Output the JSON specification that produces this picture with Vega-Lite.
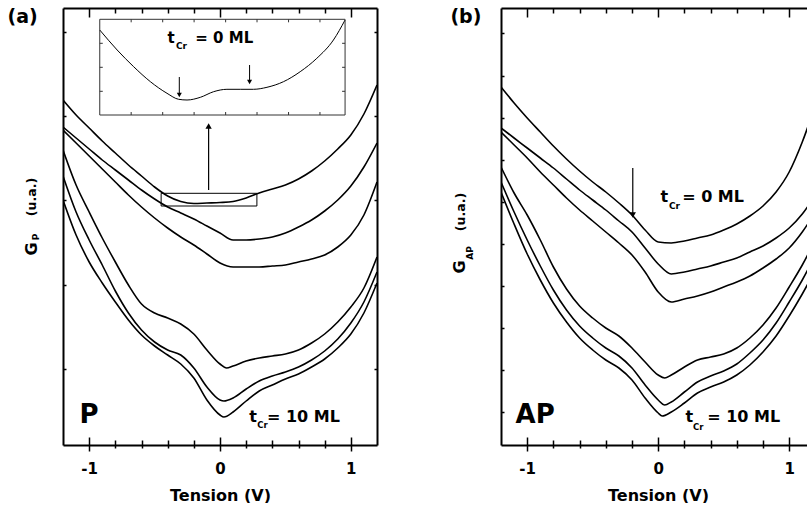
{
"$schema": "https://vega.github.io/schema/vega-lite/v6.json",
"padding": {"left": 7, "top": 7, "right": 0, "bottom": 0},
"config": {
 "font": "DejaVu Sans",
 "view": {"stroke": null},
 "axis": {"grid": false, "domainColor": "black", "domainWidth": 2, "tickColor": "black", "tickWidth": 1.5, "labelFont": "DejaVu Sans", "labelFontWeight": "bold", "labelFontSize": 15, "labelColor": "black", "titleFont": "DejaVu Sans", "titleFontWeight": "bold", "titleFontSize": 16, "titleColor": "black"},
 "text": {"font": "DejaVu Sans", "fontWeight": "bold", "color": "black"}
},
"datasets": {
 "a": [
  {"c":"a1","v":-1.2,"g":345},{"c":"a1","v":-1.1,"g":330},{"c":"a1","v":-1,"g":317},{"c":"a1","v":-0.9,"g":304},{"c":"a1","v":-0.8,"g":292},{"c":"a1","v":-0.7,"g":280},{"c":"a1","v":-0.6,"g":269},{"c":"a1","v":-0.5,"g":258},{"c":"a1","v":-0.4,"g":249},{"c":"a1","v":-0.3,"g":243.5},{"c":"a1","v":-0.2,"g":241.5},{"c":"a1","v":-0.1,"g":242},{"c":"a1","v":0,"g":242.5},{"c":"a1","v":0.1,"g":243.5},{"c":"a1","v":0.2,"g":247},{"c":"a1","v":0.3,"g":252},{"c":"a1","v":0.4,"g":256},{"c":"a1","v":0.5,"g":260},{"c":"a1","v":0.6,"g":266},{"c":"a1","v":0.7,"g":274},{"c":"a1","v":0.8,"g":284},{"c":"a1","v":0.9,"g":296},{"c":"a1","v":1,"g":310},{"c":"a1","v":1.1,"g":331},{"c":"a1","v":1.2,"g":360},
  {"c":"a2","v":-1.2,"g":318},{"c":"a2","v":-1.1,"g":307},{"c":"a2","v":-1,"g":296},{"c":"a2","v":-0.9,"g":285},{"c":"a2","v":-0.8,"g":275},{"c":"a2","v":-0.7,"g":265},{"c":"a2","v":-0.6,"g":255},{"c":"a2","v":-0.5,"g":246},{"c":"a2","v":-0.4,"g":238},{"c":"a2","v":-0.3,"g":232},{"c":"a2","v":-0.2,"g":226},{"c":"a2","v":-0.1,"g":219},{"c":"a2","v":0,"g":212},{"c":"a2","v":0.1,"g":205},{"c":"a2","v":0.2,"g":205},{"c":"a2","v":0.3,"g":206},{"c":"a2","v":0.4,"g":208},{"c":"a2","v":0.5,"g":212},{"c":"a2","v":0.6,"g":218},{"c":"a2","v":0.7,"g":225},{"c":"a2","v":0.8,"g":234},{"c":"a2","v":0.9,"g":245},{"c":"a2","v":1,"g":259},{"c":"a2","v":1.1,"g":278},{"c":"a2","v":1.2,"g":302},
  {"c":"a3","v":-1.2,"g":315},{"c":"a3","v":-1.1,"g":302},{"c":"a3","v":-1,"g":289},{"c":"a3","v":-0.9,"g":276},{"c":"a3","v":-0.8,"g":263},{"c":"a3","v":-0.7,"g":250},{"c":"a3","v":-0.6,"g":238},{"c":"a3","v":-0.5,"g":227},{"c":"a3","v":-0.4,"g":217},{"c":"a3","v":-0.3,"g":208},{"c":"a3","v":-0.2,"g":200},{"c":"a3","v":-0.1,"g":191},{"c":"a3","v":0,"g":182},{"c":"a3","v":0.1,"g":178},{"c":"a3","v":0.2,"g":178},{"c":"a3","v":0.3,"g":178},{"c":"a3","v":0.4,"g":179},{"c":"a3","v":0.5,"g":180},{"c":"a3","v":0.6,"g":183},{"c":"a3","v":0.7,"g":186},{"c":"a3","v":0.8,"g":190},{"c":"a3","v":0.9,"g":198},{"c":"a3","v":1,"g":210},{"c":"a3","v":1.1,"g":230},{"c":"a3","v":1.2,"g":263},
  {"c":"a4","v":-1.2,"g":295},{"c":"a4","v":-1.1,"g":260},{"c":"a4","v":-1,"g":233},{"c":"a4","v":-0.9,"g":207},{"c":"a4","v":-0.8,"g":183},{"c":"a4","v":-0.7,"g":160},{"c":"a4","v":-0.6,"g":141},{"c":"a4","v":-0.5,"g":132},{"c":"a4","v":-0.4,"g":127},{"c":"a4","v":-0.3,"g":121},{"c":"a4","v":-0.2,"g":111},{"c":"a4","v":-0.1,"g":95},{"c":"a4","v":0,"g":81},{"c":"a4","v":0.05,"g":77},{"c":"a4","v":0.1,"g":79},{"c":"a4","v":0.2,"g":84},{"c":"a4","v":0.3,"g":87},{"c":"a4","v":0.4,"g":89},{"c":"a4","v":0.5,"g":91},{"c":"a4","v":0.6,"g":95},{"c":"a4","v":0.7,"g":102},{"c":"a4","v":0.8,"g":111},{"c":"a4","v":0.9,"g":123},{"c":"a4","v":1,"g":138},{"c":"a4","v":1.1,"g":157},{"c":"a4","v":1.2,"g":188},
  {"c":"a5","v":-1.2,"g":269},{"c":"a5","v":-1.1,"g":233},{"c":"a5","v":-1,"g":205},{"c":"a5","v":-0.9,"g":180},{"c":"a5","v":-0.8,"g":154},{"c":"a5","v":-0.7,"g":132},{"c":"a5","v":-0.6,"g":115},{"c":"a5","v":-0.5,"g":103},{"c":"a5","v":-0.4,"g":95},{"c":"a5","v":-0.3,"g":90},{"c":"a5","v":-0.2,"g":77},{"c":"a5","v":-0.1,"g":58},{"c":"a5","v":0,"g":45},{"c":"a5","v":0.03,"g":44},{"c":"a5","v":0.1,"g":47},{"c":"a5","v":0.2,"g":56},{"c":"a5","v":0.3,"g":64},{"c":"a5","v":0.4,"g":69},{"c":"a5","v":0.5,"g":73},{"c":"a5","v":0.6,"g":78},{"c":"a5","v":0.7,"g":85},{"c":"a5","v":0.8,"g":94},{"c":"a5","v":0.9,"g":106},{"c":"a5","v":1,"g":122},{"c":"a5","v":1.1,"g":143},{"c":"a5","v":1.2,"g":173},
  {"c":"a6","v":-1.2,"g":245},{"c":"a6","v":-1.1,"g":210},{"c":"a6","v":-1,"g":183},{"c":"a6","v":-0.9,"g":162},{"c":"a6","v":-0.8,"g":143},{"c":"a6","v":-0.7,"g":125},{"c":"a6","v":-0.6,"g":110},{"c":"a6","v":-0.5,"g":99},{"c":"a6","v":-0.4,"g":90},{"c":"a6","v":-0.3,"g":81},{"c":"a6","v":-0.2,"g":67},{"c":"a6","v":-0.1,"g":45},{"c":"a6","v":0,"g":30},{"c":"a6","v":0.03,"g":28},{"c":"a6","v":0.1,"g":33},{"c":"a6","v":0.2,"g":44},{"c":"a6","v":0.3,"g":54},{"c":"a6","v":0.4,"g":60},{"c":"a6","v":0.5,"g":66},{"c":"a6","v":0.6,"g":71},{"c":"a6","v":0.7,"g":78},{"c":"a6","v":0.8,"g":86},{"c":"a6","v":0.9,"g":97},{"c":"a6","v":1,"g":111},{"c":"a6","v":1.1,"g":132},{"c":"a6","v":1.2,"g":162}
 ],
 "ins": [
  {"v":-0.919,"g":415},{"v":-0.786,"g":395},{"v":-0.66,"g":378.3},{"v":-0.532,"g":363.3},{"v":-0.405,"g":351.7},{"v":-0.316,"g":345.7},{"v":-0.252,"g":345},{"v":-0.15,"g":347.7},{"v":-0.049,"g":353.3},{"v":0.053,"g":355.7},{"v":0.155,"g":355.7},{"v":0.256,"g":355.7},{"v":0.359,"g":357.7},{"v":0.485,"g":363.3},{"v":0.613,"g":373.3},{"v":0.74,"g":386.7},{"v":0.867,"g":405},{"v":0.956,"g":425}
 ],
 "itx": [{"v":-0.679},{"v":-0.438},{"v":-0.198},{"v":0.043},{"v":0.283},{"v":0.524},{"v":0.764}],
 "ity": [{"g":401.7},{"g":377.7},{"g":353.7}],
 "b": [
  {"c":"b1","v":-1.2,"g":358},{"c":"b1","v":-1.1,"g":342},{"c":"b1","v":-1,"g":327},{"c":"b1","v":-0.9,"g":313},{"c":"b1","v":-0.8,"g":299},{"c":"b1","v":-0.7,"g":286},{"c":"b1","v":-0.6,"g":274},{"c":"b1","v":-0.5,"g":263},{"c":"b1","v":-0.4,"g":253},{"c":"b1","v":-0.3,"g":242},{"c":"b1","v":-0.2,"g":230},{"c":"b1","v":-0.1,"g":215},{"c":"b1","v":0,"g":203},{"c":"b1","v":0.1,"g":202},{"c":"b1","v":0.2,"g":204},{"c":"b1","v":0.3,"g":207},{"c":"b1","v":0.4,"g":210},{"c":"b1","v":0.5,"g":215},{"c":"b1","v":0.6,"g":221},{"c":"b1","v":0.7,"g":229},{"c":"b1","v":0.8,"g":239},{"c":"b1","v":0.9,"g":253},{"c":"b1","v":1,"g":273},{"c":"b1","v":1.1,"g":303},{"c":"b1","v":1.2,"g":340},
  {"c":"b2","v":-1.2,"g":317},{"c":"b2","v":-1.1,"g":307},{"c":"b2","v":-1,"g":297},{"c":"b2","v":-0.9,"g":287},{"c":"b2","v":-0.8,"g":277},{"c":"b2","v":-0.7,"g":266},{"c":"b2","v":-0.6,"g":255},{"c":"b2","v":-0.5,"g":245},{"c":"b2","v":-0.4,"g":235},{"c":"b2","v":-0.3,"g":224},{"c":"b2","v":-0.2,"g":213},{"c":"b2","v":-0.1,"g":197},{"c":"b2","v":0,"g":181},{"c":"b2","v":0.1,"g":171},{"c":"b2","v":0.2,"g":173},{"c":"b2","v":0.3,"g":176},{"c":"b2","v":0.4,"g":179},{"c":"b2","v":0.5,"g":183},{"c":"b2","v":0.6,"g":187},{"c":"b2","v":0.7,"g":193},{"c":"b2","v":0.8,"g":199},{"c":"b2","v":0.9,"g":207},{"c":"b2","v":1,"g":217},{"c":"b2","v":1.1,"g":231},{"c":"b2","v":1.2,"g":250},
  {"c":"b3","v":-1.2,"g":313},{"c":"b3","v":-1.1,"g":300},{"c":"b3","v":-1,"g":287},{"c":"b3","v":-0.9,"g":273},{"c":"b3","v":-0.8,"g":260},{"c":"b3","v":-0.7,"g":247},{"c":"b3","v":-0.6,"g":235},{"c":"b3","v":-0.5,"g":224},{"c":"b3","v":-0.4,"g":213},{"c":"b3","v":-0.3,"g":202},{"c":"b3","v":-0.2,"g":190},{"c":"b3","v":-0.1,"g":173},{"c":"b3","v":0,"g":153},{"c":"b3","v":0.1,"g":143},{"c":"b3","v":0.2,"g":146},{"c":"b3","v":0.3,"g":149},{"c":"b3","v":0.4,"g":153},{"c":"b3","v":0.5,"g":158},{"c":"b3","v":0.6,"g":163},{"c":"b3","v":0.7,"g":169},{"c":"b3","v":0.8,"g":177},{"c":"b3","v":0.9,"g":186},{"c":"b3","v":1,"g":197},{"c":"b3","v":1.1,"g":213},{"c":"b3","v":1.2,"g":233},
  {"c":"b4","v":-1.2,"g":278},{"c":"b4","v":-1.1,"g":252},{"c":"b4","v":-1,"g":230},{"c":"b4","v":-0.9,"g":205},{"c":"b4","v":-0.8,"g":178},{"c":"b4","v":-0.7,"g":156},{"c":"b4","v":-0.6,"g":139},{"c":"b4","v":-0.5,"g":127},{"c":"b4","v":-0.4,"g":117},{"c":"b4","v":-0.3,"g":109},{"c":"b4","v":-0.2,"g":97},{"c":"b4","v":-0.1,"g":83},{"c":"b4","v":0,"g":70},{"c":"b4","v":0.05,"g":67},{"c":"b4","v":0.1,"g":70},{"c":"b4","v":0.2,"g":78},{"c":"b4","v":0.3,"g":85},{"c":"b4","v":0.4,"g":88},{"c":"b4","v":0.5,"g":91},{"c":"b4","v":0.6,"g":97},{"c":"b4","v":0.7,"g":107},{"c":"b4","v":0.8,"g":120},{"c":"b4","v":0.9,"g":137},{"c":"b4","v":1,"g":158},{"c":"b4","v":1.1,"g":180},{"c":"b4","v":1.2,"g":205},
  {"c":"b5","v":-1.2,"g":263},{"c":"b5","v":-1.1,"g":233},{"c":"b5","v":-1,"g":205},{"c":"b5","v":-0.9,"g":179},{"c":"b5","v":-0.8,"g":155},{"c":"b5","v":-0.7,"g":135},{"c":"b5","v":-0.6,"g":119},{"c":"b5","v":-0.5,"g":107},{"c":"b5","v":-0.4,"g":97},{"c":"b5","v":-0.3,"g":89},{"c":"b5","v":-0.2,"g":77},{"c":"b5","v":-0.1,"g":60},{"c":"b5","v":0,"g":45},{"c":"b5","v":0.05,"g":40},{"c":"b5","v":0.1,"g":43},{"c":"b5","v":0.2,"g":53},{"c":"b5","v":0.3,"g":63},{"c":"b5","v":0.4,"g":69},{"c":"b5","v":0.5,"g":74},{"c":"b5","v":0.6,"g":81},{"c":"b5","v":0.7,"g":92},{"c":"b5","v":0.8,"g":105},{"c":"b5","v":0.9,"g":122},{"c":"b5","v":1,"g":143},{"c":"b5","v":1.1,"g":165},{"c":"b5","v":1.2,"g":190},
  {"c":"b6","v":-1.2,"g":253},{"c":"b6","v":-1.1,"g":221},{"c":"b6","v":-1,"g":191},{"c":"b6","v":-0.9,"g":165},{"c":"b6","v":-0.8,"g":142},{"c":"b6","v":-0.7,"g":123},{"c":"b6","v":-0.6,"g":107},{"c":"b6","v":-0.5,"g":95},{"c":"b6","v":-0.4,"g":85},{"c":"b6","v":-0.3,"g":77},{"c":"b6","v":-0.2,"g":65},{"c":"b6","v":-0.1,"g":47},{"c":"b6","v":0,"g":32},{"c":"b6","v":0.03,"g":29},{"c":"b6","v":0.1,"g":33},{"c":"b6","v":0.2,"g":42},{"c":"b6","v":0.3,"g":52},{"c":"b6","v":0.4,"g":58},{"c":"b6","v":0.5,"g":63},{"c":"b6","v":0.6,"g":70},{"c":"b6","v":0.7,"g":80},{"c":"b6","v":0.8,"g":93},{"c":"b6","v":0.9,"g":109},{"c":"b6","v":1,"g":129},{"c":"b6","v":1.1,"g":151},{"c":"b6","v":1.2,"g":175}
 ]
},
"spacing": 124,
"bounds": "flush",
"hconcat": [
 {
  "width": 314, "height": 437,
  "layer": [
   {"data": {"values": [{}]}, "layer": [
    {"data": {"name": "a"}, "mark": {"type": "line", "stroke": "black", "strokeWidth": 1.6, "clip": true, "interpolate": "monotone"},
     "encoding": {
      "x": {"field": "v", "type": "quantitative", "scale": {"domain": [-1.2, 1.2], "nice": false, "zero": false},
        "axis": {"orient": "bottom", "values": [-1, 0, 1], "format": "d", "labelExpr": "replace(datum.label, '−', '-')", "tickSize": 6, "labelPadding": 10, "labelOverlap": false, "labelFlush": false, "title": "Tension (V)", "titlePadding": 11}},
      "y": {"field": "g", "type": "quantitative", "scale": {"domain": [0, 437], "nice": false, "zero": false},
        "axis": {"orient": "left", "values": [413,329,245,160,76], "labels": false, "title": null, "tickSize": -3}},
      "detail": {"field": "c"}
     }},
    {"data": {"name": "ins"}, "mark": {"type": "line", "stroke": "black", "strokeWidth": 1, "interpolate": "monotone"},
     "encoding": {"x": {"field": "v", "type": "quantitative"}, "y": {"field": "g", "type": "quantitative"}}},
    {"mark": {"type": "rect", "fill": null, "stroke": "#333", "strokeWidth": 1},
     "encoding": {"x": {"datum": -0.919}, "x2": {"datum": 0.956}, "y": {"datum": 330}, "y2": {"datum": 425.7}}},
    {"data": {"name": "itx"}, "mark": {"type": "rule", "stroke": "#333", "strokeWidth": 1},
     "encoding": {"x": {"field": "v", "type": "quantitative"}, "y": {"datum": 330}, "y2": {"datum": 333}}},
    {"data": {"name": "itx"}, "mark": {"type": "rule", "stroke": "#333", "strokeWidth": 1},
     "encoding": {"x": {"field": "v", "type": "quantitative"}, "y": {"datum": 425.7}, "y2": {"datum": 422.7}}},
    {"data": {"name": "ity"}, "mark": {"type": "rule", "stroke": "#333", "strokeWidth": 1},
     "encoding": {"y": {"field": "g", "type": "quantitative"}, "x": {"datum": -0.919}, "x2": {"datum": -0.896}}},
    {"data": {"name": "ity"}, "mark": {"type": "rule", "stroke": "#333", "strokeWidth": 1},
     "encoding": {"y": {"field": "g", "type": "quantitative"}, "x": {"datum": 0.956}, "x2": {"datum": 0.933}}},
    {"mark": {"type": "rect", "fill": null, "stroke": "black", "strokeWidth": 1},
     "encoding": {"x": {"datum": -0.45}, "x2": {"datum": 0.282}, "y": {"datum": 239}, "y2": {"datum": 251.7}}},
    {"mark": {"type": "rule", "stroke": "black", "strokeWidth": 1.2},
     "encoding": {"x": {"datum": -0.087}, "y": {"datum": 255}, "y2": {"datum": 319}}},
    {"mark": {"type": "point", "shape": "triangle-up", "filled": true, "color": "black", "size": 40, "opacity": 1},
     "encoding": {"x": {"datum": -0.087}, "y": {"datum": 319}}},
    {"mark": {"type": "rule", "stroke": "black", "strokeWidth": 1},
     "encoding": {"x": {"datum": -0.311}, "y": {"datum": 368}, "y2": {"datum": 351}}},
    {"mark": {"type": "point", "shape": "triangle-down", "filled": true, "color": "black", "size": 25, "opacity": 1},
     "encoding": {"x": {"datum": -0.311}, "y": {"datum": 350}}},
    {"mark": {"type": "rule", "stroke": "black", "strokeWidth": 1},
     "encoding": {"x": {"datum": 0.226}, "y": {"datum": 380}, "y2": {"datum": 364}}},
    {"mark": {"type": "point", "shape": "triangle-down", "filled": true, "color": "black", "size": 25, "opacity": 1},
     "encoding": {"x": {"datum": 0.226}, "y": {"datum": 363}}},
    {"mark": {"type": "text", "text": "(a)", "align": "left", "baseline": "middle", "fontSize": 19},
     "encoding": {"x": {"datum": -1.624}, "y": {"datum": 428}}},
    {"mark": {"type": "text", "text": "G", "align": "center", "baseline": "middle", "fontSize": 16, "angle": 270},
     "encoding": {"x": {"datum": -1.44}, "y": {"datum": 196}}},
    {"mark": {"type": "text", "text": "P", "align": "center", "baseline": "middle", "fontSize": 9, "angle": 270},
     "encoding": {"x": {"datum": -1.405}, "y": {"datum": 208}}},
    {"mark": {"type": "text", "text": "(u.a.)", "align": "center", "baseline": "middle", "fontSize": 12.5, "angle": 270},
     "encoding": {"x": {"datum": -1.44}, "y": {"datum": 248}}},
    {"mark": {"type": "text", "text": "t", "align": "left", "baseline": "alphabetic", "fontSize": 15},
     "encoding": {"x": {"datum": -0.401}, "y": {"datum": 402.3}}},
    {"mark": {"type": "text", "text": "Cr", "align": "left", "baseline": "alphabetic", "fontSize": 9},
     "encoding": {"x": {"datum": -0.337}, "y": {"datum": 396}}},
    {"mark": {"type": "text", "text": "= 0 ML", "align": "left", "baseline": "alphabetic", "fontSize": 15},
     "encoding": {"x": {"datum": -0.189}, "y": {"datum": 402.3}}},
    {"mark": {"type": "text", "text": "P", "align": "left", "baseline": "alphabetic", "fontSize": 26},
     "encoding": {"x": {"datum": -1.073}, "y": {"datum": 22}}},
    {"mark": {"type": "text", "text": "t", "align": "left", "baseline": "alphabetic", "fontSize": 16},
     "encoding": {"x": {"datum": 0.224}, "y": {"datum": 23}}},
    {"mark": {"type": "text", "text": "Cr", "align": "left", "baseline": "alphabetic", "fontSize": 8.5},
     "encoding": {"x": {"datum": 0.285}, "y": {"datum": 16.7}}},
    {"mark": {"type": "text", "text": "= 10 ML", "align": "left", "baseline": "alphabetic", "fontSize": 16},
     "encoding": {"x": {"datum": 0.359}, "y": {"datum": 23}}}
   ]},
   {"mark": {"type": "point", "opacity": 0},
    "encoding": {
     "x": {"datum": 0, "type": "quantitative", "axis": {"orient": "bottom", "values": [-1,-0.8,-0.6,-0.4,-0.2,0,0.2,0.4,0.6,0.8,1], "labels": false, "title": null, "domain": false, "tickSize": {"condition": {"test": "abs(datum.value) == 1 || abs(datum.value) < 0.01", "value": -8}, "value": -5}}},
     "y": {"datum": 200, "type": "quantitative", "axis": {"orient": "right", "values": [413,329,245,160,76], "labels": false, "title": null, "tickSize": -3}}
    }},
   {"mark": {"type": "point", "opacity": 0},
    "encoding": {
     "x": {"datum": 0, "type": "quantitative", "axis": {"orient": "top", "values": [-1,-0.8,-0.6,-0.4,-0.2,0,0.2,0.4,0.6,0.8,1], "labels": false, "title": null, "tickSize": {"condition": {"test": "abs(datum.value) == 1 || abs(datum.value) < 0.01", "value": -9}, "value": -5}}},
     "y": {"datum": 200, "type": "quantitative", "axis": null}
    }},
   {"mark": {"type": "point", "opacity": 0},
    "encoding": {
     "x": {"datum": 0, "type": "quantitative", "axis": {"orient": "bottom", "values": [-0.8,-0.6,-0.4,-0.2,0.2,0.4,0.6,0.8], "labels": false, "title": null, "domain": false, "tickSize": 3}},
     "y": {"datum": 200, "type": "quantitative", "axis": null}
    }}
  ],
  "resolve": {"axis": {"x": "independent", "y": "independent"}}
 },
 {
  "width": 306, "height": 437,
  "layer": [
   {"data": {"values": [{}]}, "layer": [
    {"data": {"name": "b"}, "mark": {"type": "line", "stroke": "black", "strokeWidth": 1.6, "clip": true, "interpolate": "monotone"},
     "encoding": {
      "x": {"field": "v", "type": "quantitative", "scale": {"domain": [-1.2, 1.136], "nice": false, "zero": false},
        "axis": {"orient": "bottom", "values": [-1, 0, 1], "format": "d", "labelExpr": "replace(datum.label, '−', '-')", "tickSize": 6, "labelPadding": 10, "labelOverlap": false, "labelFlush": false, "title": "Tension (V)", "titlePadding": 11, "titleX": 157}},
      "y": {"field": "g", "type": "quantitative", "scale": {"domain": [0, 437], "nice": false, "zero": false},
        "axis": {"orient": "left", "values": [412,369,327,285,243,201,159,117,75,33], "labels": false, "title": null, "tickSize": -3}},
      "detail": {"field": "c"}
     }},
    {"mark": {"type": "rule", "stroke": "black", "strokeWidth": 1.2},
     "encoding": {"x": {"datum": -0.194}, "y": {"datum": 277}, "y2": {"datum": 231}}},
    {"mark": {"type": "point", "shape": "triangle-down", "filled": true, "color": "black", "size": 40, "opacity": 1},
     "encoding": {"x": {"datum": -0.194}, "y": {"datum": 230}}},
    {"mark": {"type": "text", "text": "(b)", "align": "left", "baseline": "middle", "fontSize": 19},
     "encoding": {"x": {"datum": -1.586}, "y": {"datum": 428}}},
    {"mark": {"type": "text", "text": "G", "align": "center", "baseline": "middle", "fontSize": 16, "angle": 270},
     "encoding": {"x": {"datum": -1.513}, "y": {"datum": 178}}},
    {"mark": {"type": "text", "text": "AP", "align": "center", "baseline": "middle", "fontSize": 9, "angle": 270},
     "encoding": {"x": {"datum": -1.437}, "y": {"datum": 192}}},
    {"mark": {"type": "text", "text": "(u.a.)", "align": "center", "baseline": "middle", "fontSize": 12.5, "angle": 270},
     "encoding": {"x": {"datum": -1.502}, "y": {"datum": 233}}},
    {"mark": {"type": "text", "text": "t", "align": "left", "baseline": "alphabetic", "fontSize": 16},
     "encoding": {"x": {"datum": 0.018}, "y": {"datum": 243}}},
    {"mark": {"type": "text", "text": "Cr", "align": "left", "baseline": "alphabetic", "fontSize": 9},
     "encoding": {"x": {"datum": 0.082}, "y": {"datum": 236.5}}},
    {"mark": {"type": "text", "text": "= 0 ML", "align": "left", "baseline": "alphabetic", "fontSize": 16},
     "encoding": {"x": {"datum": 0.183}, "y": {"datum": 243}}},
    {"mark": {"type": "text", "text": "AP", "align": "left", "baseline": "alphabetic", "fontSize": 26},
     "encoding": {"x": {"datum": -1.089}, "y": {"datum": 22}}},
    {"mark": {"type": "text", "text": "t", "align": "left", "baseline": "alphabetic", "fontSize": 16},
     "encoding": {"x": {"datum": 0.208}, "y": {"datum": 23}}},
    {"mark": {"type": "text", "text": "Cr", "align": "left", "baseline": "alphabetic", "fontSize": 8.5},
     "encoding": {"x": {"datum": 0.266}, "y": {"datum": 15.5}}},
    {"mark": {"type": "text", "text": "= 10 ML", "align": "left", "baseline": "alphabetic", "fontSize": 16},
     "encoding": {"x": {"datum": 0.374}, "y": {"datum": 23}}}
   ]},
   {"mark": {"type": "point", "opacity": 0},
    "encoding": {
     "x": {"datum": 0, "type": "quantitative", "axis": {"orient": "bottom", "values": [-1,-0.8,-0.6,-0.4,-0.2,0,0.2,0.4,0.6,0.8,1], "labels": false, "title": null, "domain": false, "tickSize": {"condition": {"test": "abs(datum.value) == 1 || abs(datum.value) < 0.01", "value": -8}, "value": -5}}},
     "y": {"datum": 200, "type": "quantitative", "axis": null}
    }},
   {"mark": {"type": "point", "opacity": 0},
    "encoding": {
     "x": {"datum": 0, "type": "quantitative", "axis": {"orient": "top", "values": [-1,-0.8,-0.6,-0.4,-0.2,0,0.2,0.4,0.6,0.8,1], "labels": false, "title": null, "tickSize": {"condition": {"test": "abs(datum.value) == 1 || abs(datum.value) < 0.01", "value": -9}, "value": -5}}},
     "y": {"datum": 200, "type": "quantitative", "axis": null}
    }},
   {"mark": {"type": "point", "opacity": 0},
    "encoding": {
     "x": {"datum": 0, "type": "quantitative", "axis": {"orient": "bottom", "values": [-0.8,-0.6,-0.4,-0.2,0.2,0.4,0.6,0.8], "labels": false, "title": null, "domain": false, "tickSize": 3}},
     "y": {"datum": 200, "type": "quantitative", "axis": null}
    }}
  ],
  "resolve": {"axis": {"x": "independent", "y": "independent"}}
 }
]
}
